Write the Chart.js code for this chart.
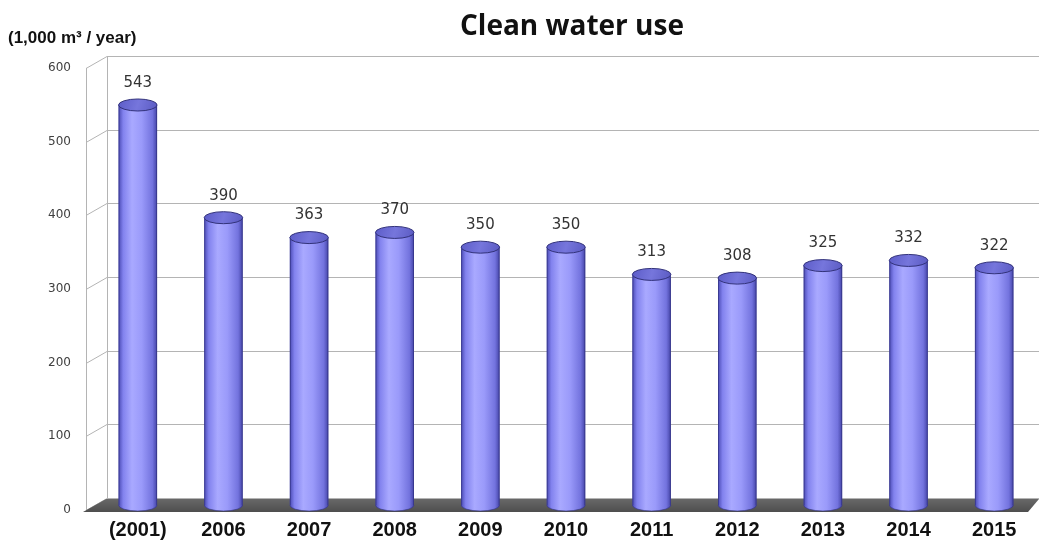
<!DOCTYPE html>
<html>
<head>
<meta charset="utf-8">
<script src="https://cdn.jsdelivr.net/npm/chart.js@4.4.0/dist/chart.umd.min.js"></script>
<style>
  html, body { margin: 0; padding: 0; background: #fff; }
  #wrap { width: 1039px; height: 549px; }
</style>
</head>
<body>
<div id="wrap"><canvas id="waterChart"></canvas></div>
<script>
const years = ['(2001)', '2006', '2007', '2008', '2009', '2010', '2011', '2012', '2013', '2014', '2015'];
const waterUse = [543, 390, 363, 370, 350, 350, 313, 308, 325, 332, 322];
const yMax = 600;
const yStep = 100;

const chartTitle = 'Clean water use';
const unitLabel = '(1,000 m\u00b3 / year)';

const barPct = 0.45;

// gradient across one cylinder body
const bodyGradient = (ctx, x, w) => {
  const g = ctx.createLinearGradient(x - w / 2, 0, x + w / 2, 0);
  g.addColorStop(0, '#4a4ab4');
  g.addColorStop(0.12, '#8282ee');
  g.addColorStop(0.35, '#a9a9ff');
  g.addColorStop(0.6, '#9a9afa');
  g.addColorStop(0.88, '#7373de');
  g.addColorStop(1, '#4444a6');
  return g;
};

const box3d = {
  id: 'box3d',
  beforeDatasetsDraw(chart) {
    const { ctx, chartArea, scales } = chart;
    const y = scales.y;
    const W = chart.width;
    const fx = chartArea.left - 9;   // front edge of left wall
    const dx = 21, dy = -12;          // depth of the box
    const front = v => y.getPixelForValue(v) + 5;

    ctx.save();
    ctx.lineWidth = 1;
    ctx.strokeStyle = '#b4b4b4';
    // back wall + left wall grid
    for (let v = 0; v <= yMax; v += yStep) {
      const py = Math.round(front(v)) + 0.5;
      ctx.beginPath();
      ctx.moveTo(fx, py);
      ctx.lineTo(fx + dx, py + dy);
      ctx.lineTo(W, py + dy);
      ctx.stroke();
    }
    ctx.beginPath();
    ctx.moveTo(fx + 0.5, front(0));
    ctx.lineTo(fx + 0.5, front(yMax));
    ctx.moveTo(fx + dx + 0.5, front(0) + dy);
    ctx.lineTo(fx + dx + 0.5, front(yMax) + dy);
    ctx.stroke();

    // floor slab
    const y0 = front(0);
    const g = ctx.createLinearGradient(0, y0 + dy, 0, y0 + 2);
    g.addColorStop(0, '#6a6a6a');
    g.addColorStop(1, '#4e4e4e');
    ctx.fillStyle = g;
    ctx.beginPath();
    ctx.moveTo(fx - 3, y0 + 2);
    ctx.lineTo(fx + dx - 1, y0 + dy + 1);
    ctx.lineTo(W, y0 + dy + 1);
    ctx.lineTo(W - 11, y0 + 2);
    ctx.closePath();
    ctx.fill();
    ctx.restore();
  },
  afterDatasetsDraw(chart) {
    const { ctx } = chart;
    const meta = chart.getDatasetMeta(0);
    ctx.save();
    meta.data.forEach((bar, i) => {
      const { x, y, base, width } = bar.getProps(['x', 'y', 'base', 'width'], true);
      const rx = width / 2, ry = 6;

      // bottom cap
      ctx.fillStyle = bodyGradient(ctx, x, width);
      ctx.beginPath();
      ctx.ellipse(x, base, rx, ry, 0, 0, Math.PI);
      ctx.fill();
      ctx.strokeStyle = 'rgba(50,50,130,0.6)';
      ctx.lineWidth = 1;
      ctx.stroke();

      // side edges
      ctx.beginPath();
      ctx.moveTo(x - rx + 0.5, y);
      ctx.lineTo(x - rx + 0.5, base);
      ctx.moveTo(x + rx - 0.5, y);
      ctx.lineTo(x + rx - 0.5, base);
      ctx.strokeStyle = 'rgba(50,50,130,0.7)';
      ctx.stroke();

      // top cap
      const tg = ctx.createLinearGradient(x - rx, y - ry, x + rx, y + ry);
      tg.addColorStop(0, '#5c5cc8');
      tg.addColorStop(0.5, '#7676dc');
      tg.addColorStop(1, '#5a5ac2');
      ctx.fillStyle = tg;
      ctx.beginPath();
      ctx.ellipse(x, y, rx, ry, 0, 0, Math.PI * 2);
      ctx.fill();
      ctx.strokeStyle = '#32327a';
      ctx.stroke();

      // value label
      ctx.fillStyle = '#333';
      ctx.font = '15px "DejaVu Sans"';
      ctx.textAlign = 'center';
      ctx.textBaseline = 'middle';
      ctx.fillText(String(waterUse[i]), x, y - 22);
    });
    ctx.restore();
  },
  afterDraw(chart) {
    const { ctx } = chart;
    ctx.save();
    ctx.fillStyle = '#111';
    ctx.textBaseline = 'middle';
    ctx.textAlign = 'center';
    ctx.font = 'bold 28px "Open Sans"';
    ctx.fillText(chartTitle, 572, 27);
    ctx.textAlign = 'left';
    ctx.font = 'bold 17px "Liberation Sans"';
    ctx.fillText(unitLabel, 8, 38);
    ctx.restore();
  }
};

new Chart(document.getElementById('waterChart'), {
  type: 'bar',
  data: {
    labels: years,
    datasets: [{
      data: waterUse,
      backgroundColor: (c) => {
        const x = c.chart.scales.x;
        const fallback = '#9a9afa';
        if (!c.chart.chartArea || !x || c.dataIndex === undefined) return fallback;
        const w = (x.width / years.length) * barPct;
        const cx = x.getPixelForValue(c.dataIndex);
        if (!isFinite(w) || !isFinite(cx)) return fallback;
        return bodyGradient(c.chart.ctx, cx, w);
      },
      borderWidth: 0,
      barPercentage: barPct,
      categoryPercentage: 1
    }]
  },
  options: {
    responsive: true,
    maintainAspectRatio: false,
    animation: false,
    layout: { padding: { top: 63, right: 2, left: 0, bottom: 0 } },
    plugins: {
      legend: { display: false },
      title: { display: false },
      tooltip: { enabled: false }
    },
    scales: {
      x: {
        grid: { display: false, drawTicks: false },
        border: { display: false },
        ticks: {
          padding: 13,
          color: '#111',
          font: { family: '"Liberation Sans"', size: 20, weight: 'bold' }
        },
        afterFit: s => { s.height = 44; }
      },
      y: {
        min: 0,
        max: yMax,
        grid: { display: false, drawTicks: false },
        border: { display: false },
        ticks: {
          stepSize: yStep,
          padding: 24,
          labelOffset: 5,
          color: '#404040',
          font: { family: '"DejaVu Sans"', size: 12 }
        },
        afterFit: s => { s.width = 95; }
      }
    }
  },
  plugins: [box3d]
});
</script>
</body>
</html>
